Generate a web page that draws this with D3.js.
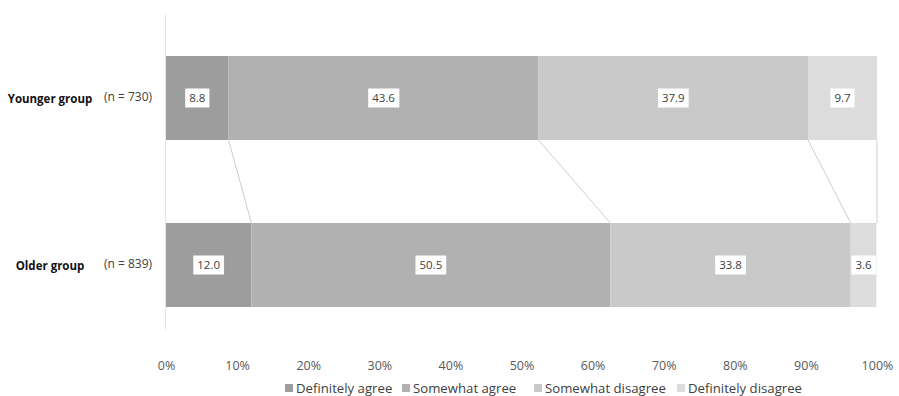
<!DOCTYPE html>
<html><head><meta charset="utf-8">
<script src="https://cdn.jsdelivr.net/npm/d3@7"></script>
<style>body{margin:0;background:#fff;font-family:"Open Sans","Noto Sans",sans-serif;}</style>
</head><body><svg id="c" width="899" height="396"></svg>
<script>
const groups = ["Younger group", "Older group"];
const groupN = ["(n = 730)", "(n = 839)"];
const seriesNames = ["Definitely agree", "Somewhat agree", "Somewhat disagree", "Definitely disagree"];
const definitelyAgree = [8.8, 12.0];
const somewhatAgree = [43.6, 50.5];
const somewhatDisagree = [37.9, 33.8];
const definitelyDisagree = [9.7, 3.6];
const tickValues = [0, 10, 20, 30, 40, 50, 60, 70, 80, 90, 100];
const colors = ["#9d9d9d", "#b1b1b1", "#c9c9c9", "#dcdcdc"];

const seriesVals = [definitelyAgree, somewhatAgree, somewhatDisagree, definitelyDisagree];
const svg = d3.select("#c");
const x = d3.scaleLinear().domain([0, 100]).range([166, 877]);
const y = d3.scalePoint().domain(groups).range([98, 265]);
const barH = 84;

// axis line
svg.append("line").attr("x1", 165.5).attr("x2", 165.5).attr("y1", 14).attr("y2", 330)
  .attr("stroke", "#e6e6e6").attr("stroke-width", 1);

// stacked data
const stacks = groups.map((g, gi) => {
  let c = 0;
  return seriesVals.map((s, si) => { const d = {g, si, v: s[gi], x0: c, x1: c + s[gi]}; c += s[gi]; return d; });
});

// connectors
const cY = stacks[0], cO = stacks[1];
cY.forEach((d, i) => {
  svg.append("line")
    .attr("x1", x(d.x1)).attr("y1", y(groups[0]) + barH / 2)
    .attr("x2", x(i === cY.length - 1 ? 100 : cO[i].x1)).attr("y2", y(groups[1]) - barH / 2)
    .attr("stroke", "#cfcfcf").attr("stroke-width", 1);
});

stacks.forEach(st => {
  st.forEach(d => {
    svg.append("rect").attr("x", x(d.x0)).attr("width", x(d.x1) - x(d.x0))
      .attr("y", y(d.g) - barH / 2).attr("height", barH).attr("fill", colors[d.si]);
  });
  st.forEach(d => {
    const cx = (x(d.x0) + x(d.x1)) / 2, cy = y(d.g);
    const t = svg.append("text").attr("x", cx).attr("y", cy + 4).attr("text-anchor", "middle")
      .attr("font-size", 11.5).attr("fill", "#404040").text(d.v.toFixed(1));
    const bb = t.node().getBBox();
    svg.insert("rect", () => t.node()).attr("x", bb.x - 4).attr("y", cy - 9.5)
      .attr("width", bb.width + 8).attr("height", 19).attr("fill", "#fff");
  });
});

// category labels
groups.forEach((g, i) => {
  svg.append("text").attr("x", 50).attr("y", y(g) + 4.5).attr("text-anchor", "middle")
    .attr("font-size", 11.5).attr("font-weight", "bold").attr("fill", "#111").text(g);
  svg.append("text").attr("x", 128).attr("y", y(g) + 3).attr("text-anchor", "middle")
    .attr("font-size", 12).attr("fill", "#404040").text(groupN[i]);
});

// x axis
const ax = svg.append("g").attr("transform", "translate(0,353)")
  .call(d3.axisBottom(x).tickValues(tickValues).tickFormat(d => d + "%").tickSize(0).tickPadding(8));
ax.select(".domain").remove();
ax.selectAll("text").attr("font-size", 12.5).attr("fill", "#595959").attr("font-family", "Open Sans, Noto Sans, sans-serif");

// legend
const legX = [285, 402, 534, 677];
seriesNames.forEach((n, i) => {
  svg.append("rect").attr("x", legX[i]).attr("y", 384).attr("width", 8).attr("height", 8).attr("fill", colors[i]);
  svg.append("text").attr("x", legX[i] + 11).attr("y", 392.5).attr("font-size", 13.2).attr("fill", "#404040").text(n);
});
</script></body></html>
